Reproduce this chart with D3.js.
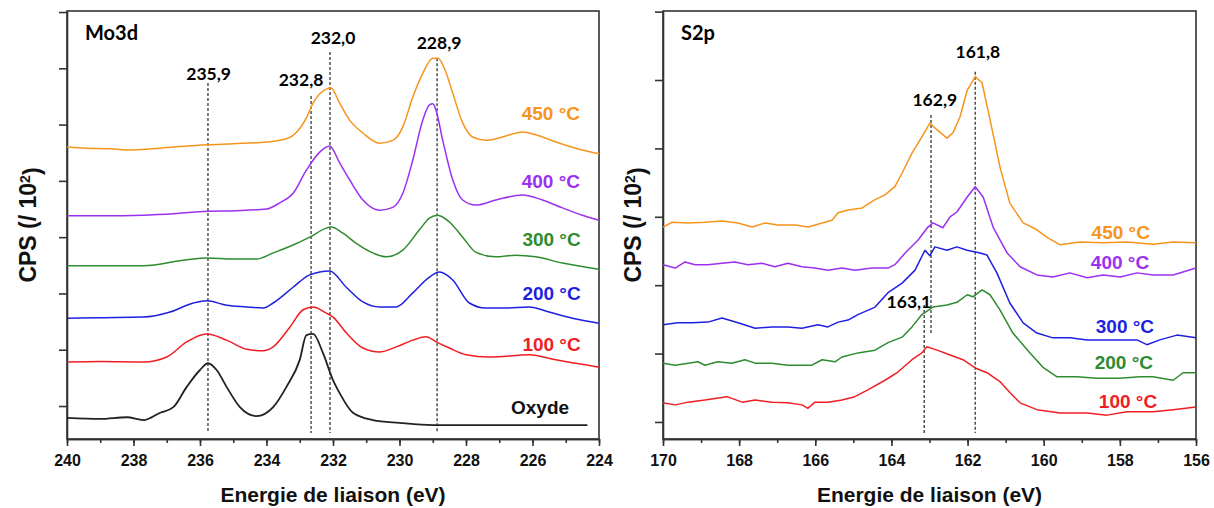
<!DOCTYPE html>
<html>
<head>
<meta charset="utf-8">
<script src="https://cdnjs.cloudflare.com/ajax/libs/d3/7.8.5/d3.min.js"></script>
<style>
body { margin: 0; background: #fff; }
.axis text { font-family: "Liberation Sans", Arial, sans-serif; font-weight: bold; font-size: 16px; fill: #111; }
.axis path, .axis line { stroke: #333; stroke-width: 1.6; }
.title { font-family: "Liberation Sans", Arial, sans-serif; font-weight: bold; fill: #111; }
.note { font-family: Lato, "Open Sans", sans-serif; font-weight: bold; fill: #000; }
.temp { font-family: "Liberation Sans", Arial, sans-serif; font-weight: bold; font-size: 19px; }
</style>
</head>
<body>
<svg id="chart" width="1214" height="508"></svg>
<script>
// ---- Mo3d : [energie (eV), CPS (/10^2)] ----
var mo_450 = [[240,5.60],[239.4,5.58],[238.7,5.57],[238.2,5.55],[237.7,5.56],[236.8,5.60],[235.8,5.64],[235,5.66],[234,5.69],[233.6,5.72],[233.2,5.81],[232.8,6.12],[232.6,6.38],[232.2,6.63],[232.06,6.65],[231.8,6.38],[231.5,6.08],[231.1,5.85],[230.6,5.67],[230.2,5.72],[229.9,5.96],[229.6,6.49],[229.3,6.91],[229.0,7.18],[228.84,7.18],[228.63,6.97],[228.4,6.56],[228.1,6.03],[227.8,5.78],[227.4,5.72],[226.9,5.78],[226.3,5.87],[225.9,5.82],[225.3,5.69],[224.7,5.58],[224,5.48]];
var mo_400 = [[240,4.38],[239,4.38],[237.7,4.39],[236.7,4.42],[235.8,4.46],[234.9,4.47],[234,4.50],[233.6,4.61],[233.2,4.78],[232.8,5.19],[232.4,5.51],[232.1,5.62],[231.8,5.32],[231.5,5.02],[231.1,4.66],[230.6,4.48],[230.2,4.53],[229.9,4.78],[229.6,5.37],[229.3,6.08],[229.1,6.35],[229.0,6.37],[228.9,6.25],[228.7,5.72],[228.4,5.02],[228.1,4.66],[227.7,4.57],[227.1,4.66],[226.3,4.75],[225.7,4.66],[225.1,4.52],[224.5,4.39],[224,4.30]];
var mo_300 = [[240,3.49],[239,3.49],[237.7,3.49],[236.4,3.60],[235.8,3.63],[235.0,3.61],[234.3,3.61],[233.8,3.72],[233.2,3.86],[232.7,4.00],[232.2,4.16],[232.06,4.18],[231.7,4.07],[231.3,3.89],[230.8,3.72],[230.4,3.65],[229.9,3.77],[229.4,4.13],[229.1,4.34],[228.85,4.39],[228.5,4.27],[228.1,4.00],[227.7,3.73],[227.1,3.65],[226.5,3.68],[225.9,3.65],[225.1,3.54],[224,3.43]];
var mo_200 = [[240,2.56],[239,2.57],[237.7,2.58],[236.9,2.67],[236.2,2.83],[235.8,2.87],[235.2,2.79],[234.6,2.76],[234.1,2.74],[233.8,2.83],[233.2,3.11],[232.7,3.33],[232.1,3.40],[231.6,3.11],[231.1,2.85],[230.6,2.76],[230.1,2.76],[229.6,3.01],[229.1,3.29],[228.8,3.38],[228.4,3.24],[227.9,2.83],[227.4,2.74],[226.8,2.74],[226.1,2.76],[225.5,2.67],[224.8,2.56],[224,2.47]];
var mo_100 = [[240,1.78],[239,1.79],[237.7,1.78],[237.0,1.87],[236.4,2.14],[235.8,2.28],[235.2,2.17],[234.6,2.01],[234.1,1.98],[233.8,2.05],[233.3,2.40],[232.9,2.71],[232.6,2.76],[232.2,2.65],[232.0,2.58],[231.6,2.30],[231.1,2.03],[230.6,1.96],[230.1,2.05],[229.6,2.17],[229.2,2.23],[228.9,2.14],[228.5,2.03],[228.0,1.91],[227.3,1.87],[226.1,1.91],[225.3,1.82],[224,1.69]];
var mo_oxyde = [[240,0.79],[239,0.77],[238.2,0.80],[237.7,0.75],[237.2,0.88],[236.8,0.98],[236.4,1.34],[236.0,1.64],[235.76,1.76],[235.5,1.64],[235.2,1.34],[234.8,0.98],[234.3,0.82],[233.8,0.98],[233.4,1.34],[233.0,1.82],[232.8,2.26],[232.6,2.28],[232.3,1.94],[232.0,1.46],[231.8,1.23],[231.4,0.88],[230.8,0.75],[230.0,0.70],[229.0,0.66],[227.0,0.66],[224.35,0.66]];

// ---- S2p : [energie (eV), CPS (/10^2)] ----
var s_450 = [[170,3.85],[169.76,3.92],[169.34,3.91],[168.9,3.92],[168.45,3.94],[168.03,3.91],[167.66,3.85],[167.32,3.91],[166.98,3.88],[166.53,3.88],[166.19,3.85],[165.82,3.91],[165.56,3.95],[165.4,4.06],[165.14,4.10],[164.77,4.13],[164.43,4.25],[164.17,4.32],[163.91,4.44],[163.72,4.64],[163.46,4.93],[163.2,5.17],[162.99,5.37],[162.8,5.27],[162.54,5.15],[162.38,5.23],[162.2,5.46],[162.01,5.85],[161.8,6.05],[161.62,5.96],[161.41,5.42],[161.15,4.73],[160.89,4.20],[160.54,3.91],[160.18,3.81],[159.91,3.70],[159.57,3.59],[159.05,3.63],[158.44,3.62],[157.81,3.63],[157.13,3.60],[156.6,3.63],[156,3.62]];
var s_400 = [[170,3.30],[169.68,3.25],[169.42,3.34],[169.16,3.30],[168.82,3.30],[168.45,3.32],[168.11,3.34],[167.77,3.30],[167.4,3.32],[167.06,3.27],[166.72,3.32],[166.35,3.27],[166.01,3.25],[165.67,3.22],[165.3,3.25],[164.96,3.22],[164.51,3.25],[164.09,3.25],[163.91,3.30],[163.64,3.47],[163.3,3.66],[163.04,3.85],[162.91,3.91],[162.65,3.84],[162.46,4.00],[162.28,4.07],[162.01,4.29],[161.8,4.44],[161.59,4.29],[161.33,3.85],[160.96,3.47],[160.62,3.27],[160.18,3.15],[159.76,3.12],[159.31,3.18],[158.86,3.11],[158.44,3.15],[157.99,3.12],[157.55,3.18],[157.13,3.15],[156.6,3.15],[156,3.25]];
var s_300 = [[170,2.42],[169.61,2.45],[169.24,2.45],[168.82,2.46],[168.45,2.52],[168.03,2.45],[167.58,2.37],[167.14,2.39],[166.72,2.39],[166.35,2.37],[165.93,2.42],[165.67,2.39],[165.4,2.46],[165.14,2.49],[164.88,2.57],[164.43,2.68],[164.09,2.89],[163.72,3.03],[163.38,3.22],[163.12,3.51],[162.99,3.43],[162.86,3.56],[162.54,3.51],[162.28,3.56],[162.01,3.51],[161.67,3.47],[161.49,3.44],[161.23,3.18],[160.89,2.74],[160.54,2.45],[160.18,2.30],[159.76,2.23],[159.31,2.23],[158.86,2.20],[158.44,2.20],[157.99,2.20],[157.55,2.20],[157.29,2.13],[156.95,2.20],[156.5,2.27],[156,2.23]];
var s_200 = [[170,1.86],[169.68,1.83],[169.34,1.86],[169.08,1.88],[168.9,1.83],[168.56,1.88],[168.19,1.86],[167.85,1.91],[167.58,1.86],[167.14,1.86],[166.72,1.83],[166.27,1.83],[166.09,1.83],[165.82,1.91],[165.48,1.88],[165.3,1.95],[164.88,2.01],[164.43,2.05],[164.09,2.16],[163.72,2.24],[163.46,2.39],[163.2,2.57],[162.91,2.68],[162.54,2.71],[162.28,2.75],[162.01,2.86],[161.86,2.83],[161.62,2.93],[161.41,2.86],[161.15,2.64],[160.81,2.30],[160.36,2.01],[160.02,1.80],[159.65,1.66],[159.13,1.66],[158.6,1.64],[158,1.64],[157.47,1.66],[157.13,1.66],[156.6,1.61],[156.34,1.72],[156,1.72]];
var s_100 = [[170,1.28],[169.68,1.25],[169.34,1.29],[168.9,1.32],[168.32,1.37],[167.92,1.29],[167.58,1.32],[167.14,1.29],[166.72,1.28],[166.35,1.25],[166.19,1.20],[166.01,1.29],[165.67,1.29],[165.3,1.32],[164.96,1.37],[164.62,1.47],[164.17,1.61],[163.83,1.73],[163.46,1.91],[163.2,2.01],[163.07,2.10],[162.8,2.05],[162.46,1.98],[162.12,1.91],[161.8,1.79],[161.49,1.72],[161.15,1.59],[160.89,1.43],[160.62,1.28],[160.18,1.18],[159.57,1.13],[158.86,1.13],[158.34,1.10],[157.81,1.15],[157.13,1.15],[156.6,1.18],[156,1.22]];

var temp_labels = ["450 °C", "400 °C", "300 °C", "200 °C", "100 °C"];
var mo_colors = ["#f7941d", "#9b30f0", "#2e8b2e", "#1f1fe0", "#f01e23", "#222222"];
var s_colors = ["#f7941d", "#9b30f0", "#1f1fe0", "#2e8b2e", "#f01e23"];

// label anchors [eV, CPS]
var mo_label_pos = [[224.57,6.20],[224.57,5.00],[224.55,3.97],[224.55,3.01],[224.55,2.10],[224.9,0.98]];
var s_label_pos = [[157.21,3.78],[157.23,3.34],[157.10,2.40],[157.13,1.88],[157.02,1.31]];

// dashed peak markers: eV, top, bottom, label, label eV, label CPS
var mo_peaks = [[235.76,6.74,0.52,"235,9",235.74,6.90],[232.66,6.51,0.52,"232,8",232.96,6.79],[232.09,7.29,0.52,"232,0",232.0,7.55],[228.87,7.18,0.52,"228,9",228.81,7.45]];
var s_peaks = [[161.80,6.12,0.84,"161,8",161.73,6.42],[162.96,5.49,2.30,"162,9",162.86,5.71],[163.14,2.71,0.84,"163,1",163.54,2.76]];

var svg = d3.select("#chart");

function draw_panel(p) {
    var x = d3.scaleLinear().domain(p.xdom).range([p.left, p.right]);
    var y = d3.scaleLinear().domain(p.ydom).range([p.bottom, p.top]);

    var major = d3.range(p.xdom[0], p.xdom[1] - 1, -2);
    var minor = d3.range(p.xdom[0], p.xdom[1] - 1, -1);

    svg.append("g")
        .attr("class", "axis")
        .attr("transform", `translate(0, ${p.bottom})`)
        .call(d3.axisBottom(x).tickValues(minor).tickSize(4).tickSizeOuter(0).tickFormat(""));
    svg.append("g")
        .attr("class", "axis")
        .attr("transform", `translate(0, ${p.bottom})`)
        .call(d3.axisBottom(x).tickValues(major).tickSize(7).tickSizeOuter(0).tickPadding(9).tickFormat(d3.format("d")));
    svg.append("g")
        .attr("class", "axis")
        .attr("transform", `translate(${p.left}, 0)`)
        .call(d3.axisLeft(y).tickValues(p.yticks).tickSize(8).tickSizeOuter(0).tickFormat(""));

    svg.append("rect")
        .attr("x", p.left).attr("y", p.top)
        .attr("width", p.right - p.left).attr("height", p.bottom - p.top)
        .attr("fill", "none").attr("stroke", "#333").attr("stroke-width", 1.6);

    // dashed markers
    p.peaks.forEach(function(d) {
        svg.append("line")
            .attr("x1", x(d[0])).attr("x2", x(d[0]))
            .attr("y1", y(d[1])).attr("y2", y(d[2]))
            .attr("stroke", "#111").attr("stroke-width", 1.1)
            .attr("stroke-dasharray", "3,2");
    });

    var line = d3.line()
        .x(function(d) { return x(d[0]); })
        .y(function(d) { return y(d[1]); })
        .curve(p.curve);

    p.series.forEach(function(s, i) {
        svg.append("path")
            .datum(s)
            .attr("fill", "none")
            .attr("stroke", p.colors[i])
            .attr("stroke-width", i == 5 ? 1.8 : 1.5)
            .attr("stroke-linejoin", "round")
            .attr("d", line);
    });

    p.peaks.forEach(function(d) {
        svg.append("text")
            .attr("class", "note")
            .attr("x", x(d[4])).attr("y", y(d[5]))
            .attr("dy", "0.36em")
            .attr("text-anchor", "middle")
            .style("font-size", "17.5px")
            .text(d[3]);
    });

    p.labels.forEach(function(t, i) {
        svg.append("text")
            .attr("class", "temp")
            .attr("x", x(p.labelPos[i][0])).attr("y", y(p.labelPos[i][1]))
            .attr("dy", "0.36em")
            .attr("text-anchor", "end")
            .attr("fill", i == 5 ? "#111" : p.colors[i])
            .text(t);
    });

    svg.append("text")
        .attr("class", "note")
        .attr("x", p.left + 18).attr("y", 40)
        .style("font-size", "20px")
        .text(p.name);

    svg.append("text")
        .attr("class", "title")
        .attr("x", (p.left + p.right) / 2).attr("y", 502)
        .attr("text-anchor", "middle")
        .style("font-size", "21px")
        .text("Energie de liaison (eV)");

    var yl = svg.append("text")
        .attr("class", "title")
        .attr("transform", `translate(${p.ylabelX}, ${(p.top + p.bottom) / 2}) rotate(-90)`)
        .attr("text-anchor", "middle")
        .style("font-size", "23px");
    yl.append("tspan").text("CPS (/ 10");
    yl.append("tspan").attr("dy", "-0.45em").style("font-size", "14px").text("2");
    yl.append("tspan").attr("dy", "0.45em").text(")");
}

draw_panel({
    name: "Mo3d", left: 67, right: 599, top: 11, bottom: 439, ylabelX: 36,
    xdom: [240, 224], ydom: [0.414, 8.018], yticks: [1, 2, 3, 4, 5, 6, 7, 8],
    series: [mo_450, mo_400, mo_300, mo_200, mo_100, mo_oxyde], colors: mo_colors,
    labels: temp_labels.concat(["Oxyde"]), labelPos: mo_label_pos,
    peaks: mo_peaks, curve: d3.curveMonotoneX
});

draw_panel({
    name: "S2p", left: 663, right: 1196, top: 11, bottom: 439, ylabelX: 641,
    xdom: [170, 156], ydom: [0.751, 7.009], yticks: [1, 2, 3, 4, 5, 6, 7],
    series: [s_450, s_400, s_300, s_200, s_100], colors: s_colors,
    labels: temp_labels, labelPos: s_label_pos,
    peaks: s_peaks, curve: d3.curveLinear
});
</script>
</body>
</html>
